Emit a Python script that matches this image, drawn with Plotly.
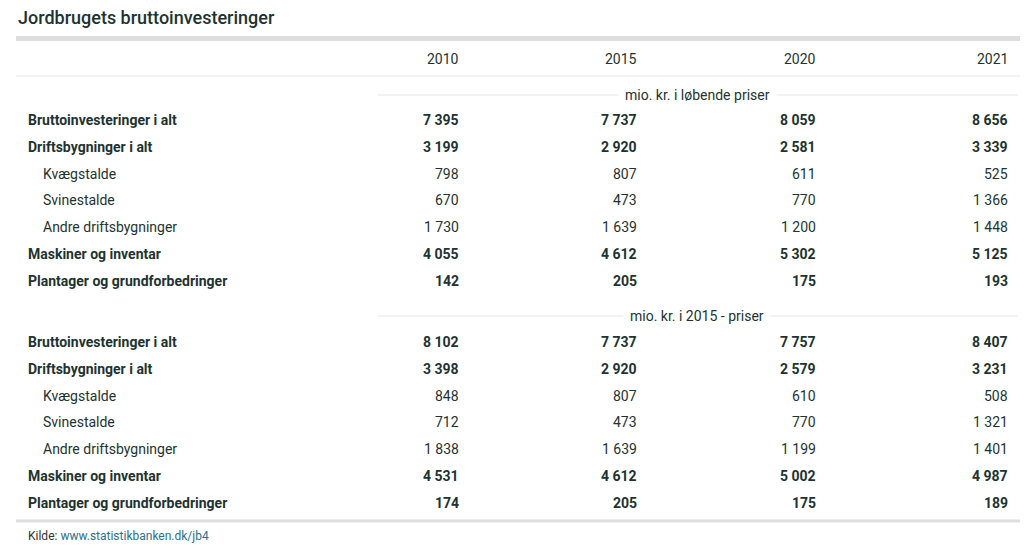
import plotly.graph_objects as go

title = "Jordbrugets bruttoinvesteringer"
years = ["2010", "2015", "2020", "2021"]
row_labels = ["Bruttoinvesteringer i alt", "Driftsbygninger i alt", "Kvægstalde", "Svinestalde",
              "Andre driftsbygninger", "Maskiner og inventar", "Plantager og grundforbedringer"]
row_bold = [True, True, False, False, False, True, True]
section_titles = ["mio. kr. i løbende priser", "mio. kr. i 2015 - priser"]
current_prices = [
    [7395, 7737, 8059, 8656],
    [3199, 2920, 2581, 3339],
    [798, 807, 611, 525],
    [670, 473, 770, 1366],
    [1730, 1639, 1200, 1448],
    [4055, 4612, 5302, 5125],
    [142, 205, 175, 193],
]
fixed_prices = [
    [8102, 7737, 7757, 8407],
    [3398, 2920, 2579, 3231],
    [848, 807, 610, 508],
    [712, 473, 770, 1321],
    [1838, 1639, 1199, 1401],
    [4531, 4612, 5002, 4987],
    [174, 205, 175, 189],
]
source_label = "Kilde: "
source_link = "www.statistikbanken.dk/jb4"

FONT = "Roboto"
DARK = "#1d3332"
col_x = [461, 639, 818, 1010]
sections_y = [96, 317]
row_y0 = [121, 343]
row_h = 26.8

def fmt(v):
    return f"{v:,}".replace(",", " ")

ann = []
shapes = []
ann.append(dict(x=16, y=18, text=title, xanchor="left", yanchor="middle", showarrow=False,
                font=dict(family=FONT, size=18, color=DARK, weight=500)))
shapes.append(dict(type="line", x0=16, x1=1020, y0=39.5, y1=39.5, line=dict(color="#dedede", width=5)))
shapes.append(dict(type="line", x0=16, x1=1020, y0=77, y1=77, line=dict(color="#e6e6e6", width=1)))
for x, yr in zip(col_x, years):
    ann.append(dict(x=x, y=60, text=yr, xanchor="right", yanchor="middle", showarrow=False,
                    font=dict(family=FONT, size=14, color=DARK)))
for s, (sy, y0, data) in enumerate(zip(sections_y, row_y0, [current_prices, fixed_prices])):
    shapes.append(dict(type="line", x0=378, x1=1018, y0=sy, y1=sy, line=dict(color="#e6e6e6", width=1)))
    ann.append(dict(x=697, y=sy, text=section_titles[s], xanchor="center", yanchor="middle", showarrow=False,
                    bgcolor="white", borderpad=6, font=dict(family=FONT, size=14, color=DARK)))
    for i, (lab, b, vals) in enumerate(zip(row_labels, row_bold, data)):
        y = y0 + i * row_h
        ann.append(dict(x=26 if b else 41, y=y, text=f"<b>{lab}</b>" if b else lab, xanchor="left",
                        yanchor="middle", showarrow=False, font=dict(family=FONT, size=14, color=DARK)))
        for x, v in zip(col_x, vals):
            ann.append(dict(x=x, y=y, text=f"<b>{fmt(v)}</b>" if b else fmt(v), xanchor="right",
                            yanchor="middle", showarrow=False, font=dict(family=FONT, size=14, color=DARK)))
shapes.append(dict(type="line", x0=16, x1=1020, y0=522, y1=522, line=dict(color="#dedede", width=3)))
ann.append(dict(x=26, y=537, text=f"{source_label}<span style='color:#2a6f8f'>{source_link}</span>",
                xanchor="left", yanchor="middle", showarrow=False, font=dict(family=FONT, size=12, color="#333")))

fig = go.Figure()
fig.add_trace(go.Scatter(x=[8, 1043], y=[9, 563], mode="markers", marker=dict(opacity=0), hoverinfo="skip"))
fig.update_layout(width=1035, height=554, margin=dict(l=0, r=0, t=0, b=0), paper_bgcolor="white",
                  plot_bgcolor="white", showlegend=False, annotations=ann, shapes=shapes,
                  xaxis=dict(range=[8, 1043], visible=False, fixedrange=True),
                  yaxis=dict(range=[563, 9], visible=False, fixedrange=True))
fig.write_html("out.html")
